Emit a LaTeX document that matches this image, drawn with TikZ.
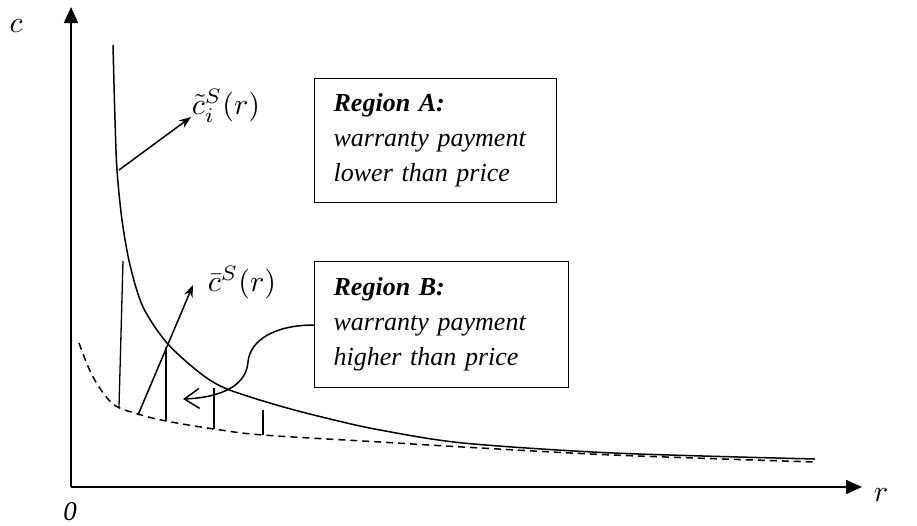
\documentclass[tikz,border=0pt]{standalone}
\usepackage{graphicx}
\usepackage{fontspec}
\setmainfont{Liberation Serif}
\usetikzlibrary{arrows.meta}
% math labels are set at 10pt and enlarged
\newcommand{\biglabel}[1]{\scalebox{3}{$#1$}}
\begin{document}
\begin{tikzpicture}[x=1pt,y=-1pt,
  axis/.style={line width=1.6pt,-{Triangle[length=16pt,width=14pt]}},
  curve/.style={line width=1.5pt},
  hatch/.style={line width=1.3pt},
  pointer/.style={line width=1.5pt,-{Stealth[length=12pt,width=9pt]}},
  regionbox/.style={draw,line width=1.3pt,align=left,inner xsep=19pt,
    font=\fontsize{26}{35}\selectfont},
  mathlabel/.style={inner sep=0pt}]
\useasboundingbox (0,0) rectangle (917,525);

% axes
\coordinate (O) at (71,487);
\coordinate (ytop) at (71,7);
\coordinate (xend) at (862,487);
\draw[axis] (O) -- (ytop);
\draw[axis] (O) -- (xend);
\node[mathlabel] (clab) at (16,26) {\biglabel{c}};
\node[mathlabel] (rlab) at (881,495) {\biglabel{r}};
\node[mathlabel] (zero) at (70,512) {\scalebox{2.7}{$\mathit{0}$}};

% upper bound of the warranty payment
\draw[curve] plot[smooth,tension=0.5] coordinates {
  (113,45) (115,120) (117,170) (122,220) (130,265) (143,307) (167,343)
  (200,373) (227,389) (280,406) (330,419) (380,430) (463,443)
  (613,453) (815,459)};

% lower bound (dashed)
\draw[curve,dash pattern=on 7pt off 5pt] plot[smooth,tension=0.55] coordinates {
  (79,343) (93,377) (113,404) (138,414) (166,421) (214,429)
  (263,435) (380,442) (463,447) (613,455) (815,462)};

% hatching between the curves
\draw[hatch] (123,261) -- (119,407);
\draw[hatch] (166,347) -- (166,421);
\draw[hatch] (214,388) -- (214,429);
\draw[hatch] (263,410) -- (263,435);

% curve labels with pointers
\node[mathlabel] (ctilde) at (226,106) {\biglabel{\tilde{c}_i^S(r)}};
\coordinate (pA) at (119,170);
\coordinate (tA) at (191,117);
\draw[pointer] (pA) -- (tA);

\node[mathlabel] (cbar) at (242,283) {\biglabel{\bar{c}^S(r)}};
\coordinate (pB) at (138,415);
\coordinate (tB) at (193,285);
\draw[pointer] (pB) -- (tB);

% region boxes
\node[regionbox,text width=204pt,minimum height=124pt,anchor=north west] (boxA) at (314,78)
  {\textbf{\textit{Region A:}}\\\textit{warranty payment}\\\textit{lower than price}};
\node[regionbox,text width=216pt,minimum height=126pt,anchor=north west] (boxB) at (314,261)
  {\textbf{\textit{Region B:}}\\\textit{warranty payment}\\\textit{higher than price}};

% curved pointer from Region B into the hatched area
\coordinate (regB) at (183,399);
\draw[line width=1.5pt,-{Straight Barb[length=15pt,width=20pt]}]
  (boxB.west |- 0,325) .. controls (275,325) and (250,340) .. (248,362)
  .. controls (246,390) and (212,398) .. (regB);
\end{tikzpicture}
\end{document}
